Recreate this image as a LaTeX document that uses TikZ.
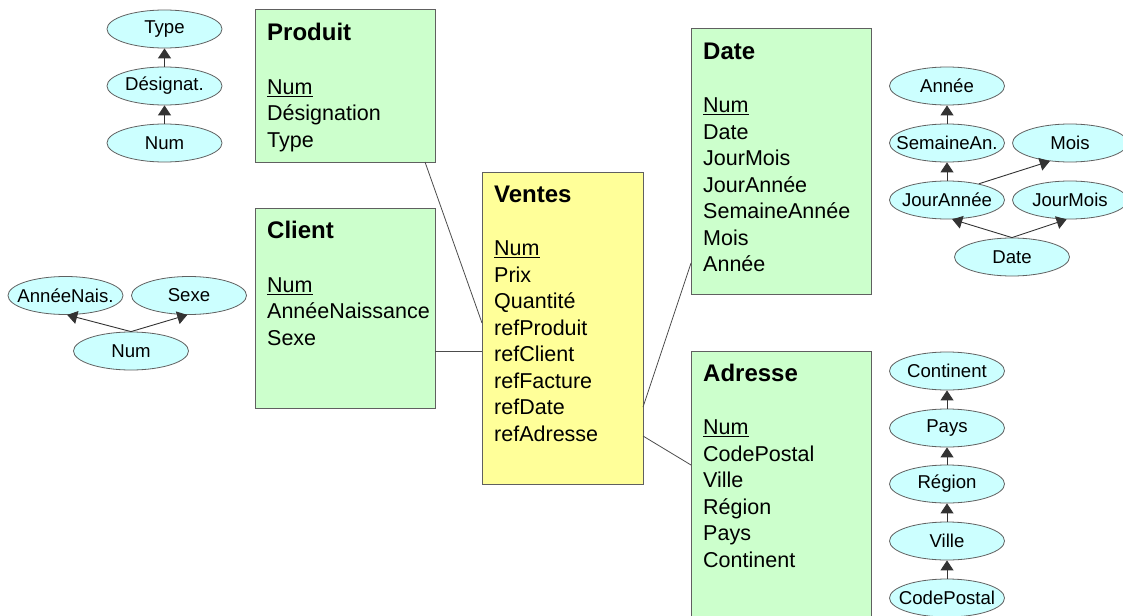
\documentclass[tikz,border=0pt]{standalone}
\usepackage{fontspec}
\setmainfont{Liberation Sans}
\usetikzlibrary{shapes.geometric,arrows.meta}
\definecolor{boxgreen}{RGB}{204,255,204}
\definecolor{boxyellow}{RGB}{255,255,153}
\definecolor{attcyan}{RGB}{204,255,255}
\definecolor{edgegray}{RGB}{96,96,96}
\newcommand\attlabel[1]{\makebox[0pt]{#1}}
\newcommand\tabtitle[1]{\rule{0pt}{18pt}{\fontsize{24}{26.5}\selectfont\bfseries #1}\\[27pt]}
\begin{document}
\begin{tikzpicture}[x=1pt,y=-1pt,
 table/.style={draw=edgegray, line width=1pt, anchor=north west, inner sep=0pt, outer sep=0pt},
 fact/.style={table, fill=boxyellow},
 dim/.style={table, fill=boxgreen},
 fields/.style={anchor=north west, inner sep=0pt, align=left, font=\fontsize{21.5}{26.5}\selectfont},
 attr/.style={ellipse, draw=edgegray, line width=0.8pt, fill=attcyan, minimum width=115pt, minimum height=38pt, inner sep=0pt, font=\fontsize{18.6}{20}\selectfont},
 hier/.style={draw=black!80, line width=0.9pt, -{Triangle[width=13pt,length=10pt]}},
 link/.style={draw=black!70, line width=0.8pt},
]
\clip (0,0) rectangle (1123,615);
\fill[white] (0,0) rectangle (1123,615);

% ---- tables ----
\node[dim, minimum width=180pt, minimum height=152pt] (produit) at (255,10) {};
\node[fields] (produit-f) at ([shift={(12pt,-12.5pt)}]produit.north west)
  {\tabtitle{Produit}\underline{Num}\\Désignation\\Type};

\node[dim, minimum width=180pt, minimum height=200pt] (client) at (255,208) {};
\node[fields] (client-f) at ([shift={(12pt,-12.5pt)}]client.north west)
  {\tabtitle{Client}\underline{Num}\\AnnéeNaissance\\Sexe};

\node[fact, minimum width=161pt, minimum height=312pt] (ventes) at (482,172) {};
\node[fields] (ventes-f) at ([shift={(12pt,-12pt)}]ventes.north west)
  {\tabtitle{Ventes}\underline{Num}\\Prix\\Quantité\\refProduit\\refClient\\refFacture\\refDate\\refAdresse};

\node[dim, minimum width=180pt, minimum height=265pt] (date) at (691,29) {};
\node[fields] (date-f) at ([shift={(12pt,-12pt)}]date.north west)
  {\tabtitle{Date}\underline{Num}\\Date\\JourMois\\JourAnnée\\SemaineAnnée\\Mois\\Année};

\node[dim, minimum width=180pt, minimum height=290pt] (adresse) at (691,351) {};
\node[fields] (adresse-f) at ([shift={(12pt,-12pt)}]adresse.north west)
  {\tabtitle{Adresse}\underline{Num}\\CodePostal\\Ville\\Région\\Pays\\Continent};

% ---- links ----
\draw[link] ([xshift=-10pt]produit.south east) -- ([yshift=-151pt]ventes.north west);
\draw[link] ([yshift=-43pt]client.east) coordinate (c1) -- (c1 -| ventes.west);
\draw[link] ([yshift=-235pt]ventes.north east) -- ([yshift=-234pt]date.north west);
\draw[link] ([yshift=-264pt]ventes.north east) -- ([yshift=-114pt]adresse.north west);

% ---- Produit hierarchy ----
\node[attr] (ptype) at (164.5,29) {\attlabel{Type}};
\node[attr] (pdes) at (164.5,86) {\attlabel{Désignat.}};
\node[attr] (pnum) at (164.5,143) {\attlabel{Num}};
\draw[hier] (pnum) -- (pdes);
\draw[hier] (pdes) -- (ptype);

% ---- Client hierarchy ----
\node[attr] (cannee) at (65.5,295.5) {\attlabel{AnnéeNais.}};
\node[attr] (csexe) at (189,295.5) {\attlabel{Sexe}};
\node[attr] (cnum) at (131,351) {\attlabel{Num}};
\draw[hier] (cnum.north) -- (cannee.-85);
\draw[hier] (cnum.north) -- (csexe.-95);

% ---- Date hierarchy ----
\node[attr] (dannee) at (947,86) {\attlabel{Année}};
\node[attr] (dsem) at (947,143) {\attlabel{SemaineAn.}};
\node[attr] (dmois) at (1070,143) {\attlabel{Mois}};
\node[attr] (djannee) at (947,200) {\attlabel{JourAnnée}};
\node[attr] (djmois) at (1070,200) {\attlabel{JourMois}};
\node[attr] (ddate) at (1012,257) {\attlabel{Date}};
\draw[hier] (dsem) -- (dannee);
\draw[hier] (djannee) -- (dsem);
\draw[hier] (djannee.27) -- (dmois.222);
\draw[hier] (ddate.north) -- (djannee.-75);
\draw[hier] (ddate.north) -- (djmois.-100);

% ---- Adresse hierarchy ----
\node[attr] (acont) at (947,371) {\attlabel{Continent}};
\node[attr] (apays) at (947,428) {\attlabel{Pays}};
\node[attr] (aregion) at (947,484) {\attlabel{Région}};
\node[attr] (aville) at (947,541) {\attlabel{Ville}};
\node[attr] (acp) at (947,598) {\attlabel{CodePostal}};
\draw[hier] (apays) -- (acont);
\draw[hier] (aregion) -- (apays);
\draw[hier] (aville) -- (aregion);
\draw[hier] (acp) -- (aville);
\end{tikzpicture}
\end{document}
